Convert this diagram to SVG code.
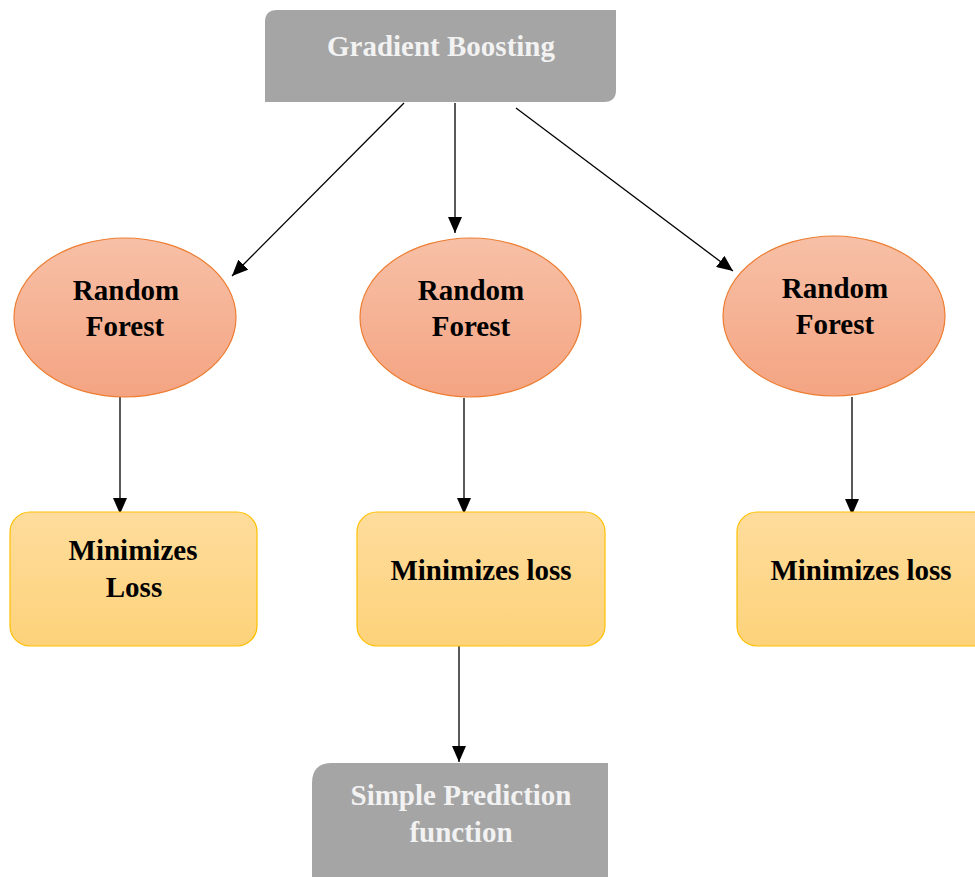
<svg xmlns="http://www.w3.org/2000/svg" width="975" height="877" viewBox="0 0 975 877">
<style>
.t{font-family:"Liberation Serif","Times New Roman",serif;font-weight:bold;font-size:29px;text-anchor:middle}
.w{fill:#F2F2F2}
.k{fill:#000}
.ell{fill:url(#gE);stroke:#ED7D31;stroke-width:1.2}
.box{fill:url(#gB);stroke:#FFC000;stroke-width:1.2}
.gray{fill:#A5A5A5}
.c{stroke:#000;stroke-width:1.3;fill:none;marker-end:url(#ah)}
</style>
<defs>
<linearGradient id="gE" x1="0" y1="0" x2="0" y2="1"><stop offset="0" stop-color="#F7C0A6"/><stop offset="1" stop-color="#F4A482"/></linearGradient>
<linearGradient id="gB" x1="0" y1="0" x2="0" y2="1"><stop offset="0" stop-color="#FEDC9C"/><stop offset="1" stop-color="#FDD27A"/></linearGradient>
<marker id="ah" viewBox="0 0 16 14" refX="16" refY="7" markerWidth="16" markerHeight="14" markerUnits="userSpaceOnUse" orient="auto"><path d="M0,0 L16,7 L0,14 z" fill="#000"/></marker>
</defs>
<rect width="975" height="877" fill="#fff"/>
<g id="connectors">
<line class="c" x1="404" y1="103" x2="232" y2="276"/>
<line class="c" x1="455" y1="103" x2="455" y2="233"/>
<line class="c" x1="516" y1="108" x2="733" y2="271"/>
<line class="c" x1="120" y1="397" x2="120" y2="514"/>
<line class="c" x1="464" y1="398" x2="464" y2="514"/>
<line class="c" x1="852" y1="397" x2="852" y2="515"/>
<line class="c" x1="459" y1="643" x2="459" y2="762"/>
</g>
<g id="gradient-boosting">
<path class="gray" d="M277,10 H616 V90 Q616,102 604,102 H265 V22 Q265,10 277,10 Z"/>
<text class="t w" x="441" y="56">Gradient Boosting</text>
</g>
<g id="rf1">
<ellipse class="ell" cx="125" cy="317.5" rx="111" ry="79.5"/>
<text class="t k" x="126" y="300">Random</text>
<text class="t k" x="125" y="336">Forest</text>
</g>
<g id="rf2">
<ellipse class="ell" cx="470.5" cy="317.5" rx="110.5" ry="79.5"/>
<text class="t k" x="471" y="300">Random</text>
<text class="t k" x="471" y="336">Forest</text>
</g>
<g id="rf3">
<ellipse class="ell" cx="834" cy="316" rx="111" ry="80"/>
<text class="t k" x="835" y="298">Random</text>
<text class="t k" x="835" y="334">Forest</text>
</g>
<g id="ml1">
<rect class="box" x="10" y="512" width="247" height="134" rx="20"/>
<text class="t k" x="133" y="560">Minimizes</text>
<text class="t k" x="134" y="597">Loss</text>
</g>
<g id="ml2">
<rect class="box" x="357" y="512" width="248" height="134" rx="20"/>
<text class="t k" x="481" y="580">Minimizes loss</text>
</g>
<g id="ml3">
<rect class="box" x="737" y="512" width="260" height="134" rx="20"/>
<text class="t k" x="861" y="580">Minimizes loss</text>
</g>
<g id="simple-prediction">
<path class="gray" d="M332,763 H608 V890 H312 V783 Q312,763 332,763 Z"/>
<text class="t w" x="461" y="805">Simple Prediction</text>
<text class="t w" x="461" y="842">function</text>
</g>
</svg>
